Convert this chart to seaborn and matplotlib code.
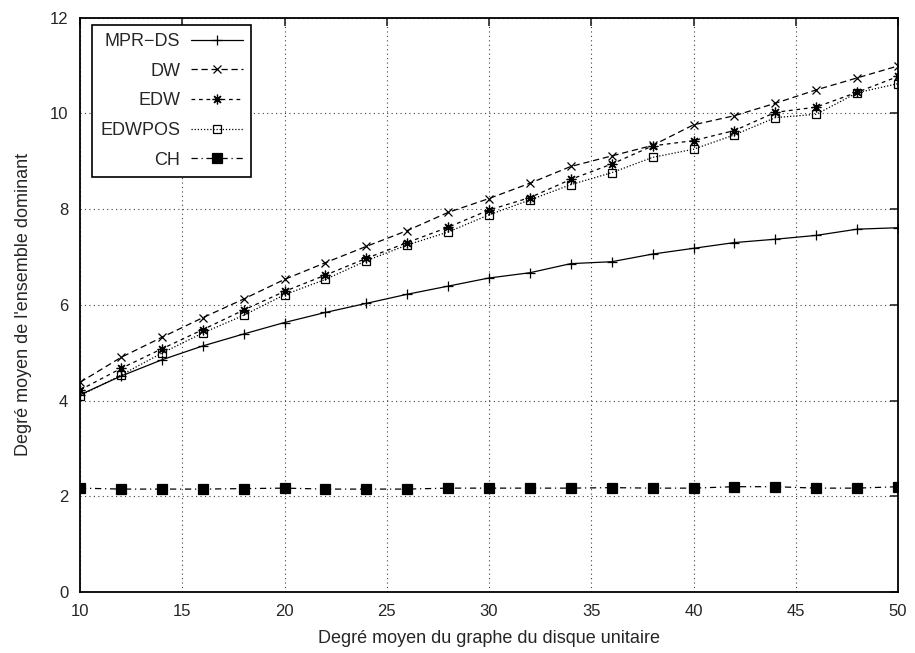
import matplotlib
matplotlib.use("Agg")
import matplotlib.pyplot as plt
import seaborn as sns
import pandas as pd

sns.set_style("white")
plt.rcParams['font.family'] = ['Liberation Sans', 'DejaVu Sans']

x_vals = [10, 12, 14, 16, 18, 20, 22, 24, 26, 28, 30, 32, 34, 36, 38, 40, 42, 44, 46, 48, 50]
mpr_ds = [4.12, 4.51, 4.85, 5.14, 5.39, 5.63, 5.84, 6.03, 6.22, 6.39, 6.56, 6.67, 6.86, 6.90, 7.06, 7.18, 7.30, 7.37, 7.45, 7.58, 7.61]
dw = [4.38, 4.90, 5.32, 5.73, 6.12, 6.53, 6.88, 7.22, 7.55, 7.93, 8.22, 8.54, 8.89, 9.11, 9.33, 9.76, 9.95, 10.21, 10.49, 10.74, 10.99]
edw = [4.22, 4.67, 5.08, 5.48, 5.89, 6.28, 6.62, 6.97, 7.30, 7.62, 7.98, 8.24, 8.62, 8.94, 9.32, 9.43, 9.64, 10.02, 10.13, 10.44, 10.77]
edwpos = [4.10, 4.53, 4.99, 5.41, 5.78, 6.21, 6.53, 6.92, 7.25, 7.52, 7.88, 8.19, 8.51, 8.76, 9.08, 9.25, 9.55, 9.91, 9.98, 10.43, 10.62]
ch = [2.17, 2.15, 2.15, 2.15, 2.16, 2.17, 2.15, 2.15, 2.15, 2.17, 2.17, 2.17, 2.17, 2.18, 2.17, 2.17, 2.20, 2.20, 2.17, 2.17, 2.20]

series_names = ["MPR\u2212DS", "DW", "EDW", "EDWPOS", "CH"]
series_values = [mpr_ds, dw, edw, edwpos, ch]

x_ticks = [10, 15, 20, 25, 30, 35, 40, 45, 50]
y_ticks = [0, 2, 4, 6, 8, 10, 12]
x_label = "Degré moyen du graphe du disque unitaire"
y_label = "Degré moyen de l'ensemble dominant"

styles = [
    dict(linestyle='-', marker='+', markersize=7, markeredgewidth=0.9, markerfacecolor='black'),
    dict(linestyle=(0, (5, 3)), marker='x', markersize=6, markeredgewidth=0.9),
    dict(linestyle=(0, (3, 3)), marker=(8, 2, 0), markersize=7, markeredgewidth=0.9),
    dict(linestyle=(0, (1, 1.5)), marker='s', markersize=6, markeredgewidth=0.9,
         markerfacecolor='none'),
    dict(linestyle=(0, (5, 3, 1, 3)), marker='s', markersize=6.5, markeredgewidth=0.9,
         markerfacecolor='black'),
]

fig = plt.figure(figsize=(9.15, 6.53), dpi=100)
ax = fig.add_axes([80 / 915, 1 - 592 / 653, (898 - 80) / 915, (592 - 17.6) / 653])

for name, vals, st in zip(series_names, series_values, styles):
    df = pd.DataFrame({"x": x_vals, "y": vals})
    sns.lineplot(data=df, x="x", y="y", ax=ax, color='black', linewidth=0.9,
                 markeredgecolor='black', label=name, **st)

ax.set_xlim(10, 50)
ax.set_ylim(0, 12)
ax.set_xticks(x_ticks)
ax.set_yticks(y_ticks)
ax.set_xlabel(x_label, fontsize=13, labelpad=8)
ax.set_ylabel(y_label, fontsize=13, labelpad=13)
ax.tick_params(direction='in', length=6, width=1.2, top=True, right=True,
               labelsize=12, pad=8.5)
for sp in ax.spines.values():
    sp.set_visible(True)
    sp.set_linewidth(1.3)
    sp.set_color('black')
ax.grid(True, color='0.25', linestyle=(0, (1, 3)), linewidth=0.8)

leg = ax.legend(loc='upper left', bbox_to_anchor=(12 / 818, 1 - 7.4 / 574.4),
                markerfirst=False, fontsize=13, frameon=True, fancybox=False,
                edgecolor='black', framealpha=1, handlelength=2.9,
                labelspacing=0.7, borderpad=0.45, handletextpad=0.6, borderaxespad=0)
leg.get_frame().set_linewidth(1.2)
for col in leg._legend_handle_box.get_children():
    col.align = "right"

fig.savefig("out.png", dpi=100)
